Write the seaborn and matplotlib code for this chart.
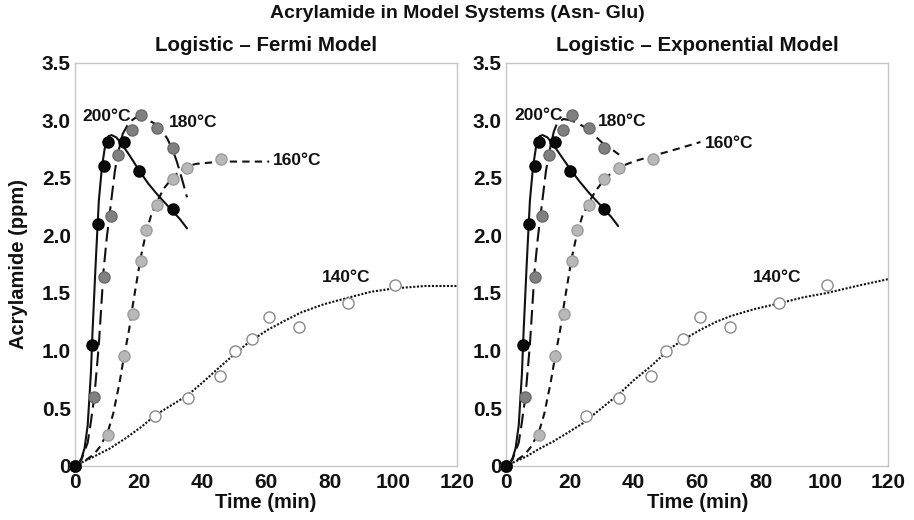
import numpy as np
import pandas as pd
import matplotlib
matplotlib.use("Agg")
import matplotlib.pyplot as plt
from matplotlib.ticker import FixedLocator, FuncFormatter
import seaborn as sns

# ---- measured acrylamide data (time in min, acrylamide in ppm) ----
t200 = [0, 5.3, 7.2, 9.0, 10.5, 15.3, 20.2, 30.7]
y200 = [0, 1.05, 2.10, 2.60, 2.81, 2.81, 2.56, 2.23]

t180 = [0, 6.1, 9.0, 11.4, 13.4, 17.8, 20.6, 25.9, 30.7]
y180 = [0, 0.60, 1.64, 2.17, 2.70, 2.91, 3.04, 2.93, 2.76]

t160 = [0, 10.4, 15.3, 18.2, 20.6, 22.4, 25.9, 30.7, 35.3, 46.0]
y160 = [0, 0.27, 0.95, 1.32, 1.78, 2.05, 2.26, 2.49, 2.58, 2.66]

t140 = [0, 25.2, 35.4, 45.5, 50.2, 55.6, 60.9, 70.4, 85.7, 100.6]
y140 = [0, 0.43, 0.59, 0.78, 1.00, 1.10, 1.29, 1.20, 1.41, 1.57]

# ---- fitted curves, Logistic - Fermi model ----
fermi200_t = [0, 1, 2, 3, 4, 5, 5.5, 6.5, 7.5, 8.5, 9.5, 10.5, 11.5, 13, 15, 17, 20, 23, 26, 29, 31, 33, 35.2]
fermi200_y = [0, 0.02, 0.06, 0.15, 0.35, 0.8, 1.15, 1.75, 2.3, 2.6, 2.78, 2.86, 2.87, 2.85, 2.78, 2.7, 2.57, 2.45, 2.35, 2.26, 2.2, 2.14, 2.06]

fermi180_t = [0, 2, 4, 5, 6.1, 7.5, 9, 10, 11.4, 12.5, 13.4, 15, 17, 19, 21, 23, 25, 27, 29, 30.7, 32, 33.5, 35.2]
fermi180_y = [0, 0.05, 0.2, 0.38, 0.6, 1.05, 1.7, 1.98, 2.3, 2.55, 2.7, 2.88, 2.98, 3.02, 3.02, 3.0, 2.97, 2.92, 2.84, 2.74, 2.64, 2.5, 2.33]

fermi160_t = [0, 3, 6, 8, 10.4, 12, 14, 15.3, 17, 18.2, 20.6, 22.4, 24, 25.9, 28, 30.7, 33, 35.3, 38, 42, 46, 50, 55, 61]
fermi160_y = [0, 0.04, 0.1, 0.17, 0.3, 0.45, 0.72, 0.93, 1.18, 1.4, 1.8, 2.03, 2.18, 2.3, 2.41, 2.5, 2.56, 2.6, 2.62, 2.63, 2.64, 2.64, 2.64, 2.64]

fermi140_t = [0, 6, 11, 16, 21, 25.3, 30, 35.3, 40, 44.8, 51, 55, 60.6, 66, 71, 78, 86, 93, 100.6, 110, 120]
fermi140_y = [0, 0.08, 0.15, 0.24, 0.34, 0.44, 0.52, 0.61, 0.72, 0.84, 0.99, 1.08, 1.18, 1.26, 1.33, 1.4, 1.46, 1.51, 1.54, 1.56, 1.56]

# ---- fitted curves, Logistic - Exponential model ----
exp200_t = [0, 1, 2, 3, 4, 5, 5.5, 6.5, 7.5, 8.5, 9.5, 10.5, 11.5, 13, 15, 17, 20, 23, 26, 29, 31, 33, 35.2]
exp200_y = [0, 0.02, 0.06, 0.15, 0.35, 0.8, 1.15, 1.75, 2.3, 2.6, 2.78, 2.86, 2.87, 2.85, 2.78, 2.7, 2.58, 2.47, 2.37, 2.28, 2.22, 2.16, 2.08]

exp180_t = [0, 2, 4, 5, 6.1, 7.5, 9, 10, 11.4, 12.5, 13.4, 15, 16, 18, 20, 22, 24, 26, 28, 30.7, 33, 35.5]
exp180_y = [0, 0.05, 0.2, 0.38, 0.6, 1.05, 1.7, 1.98, 2.3, 2.55, 2.7, 2.9, 2.97, 3.01, 3.0, 2.98, 2.95, 2.91, 2.86, 2.79, 2.75, 2.7]

exp160_t = [0, 3, 6, 8, 10.4, 12, 14, 15.3, 17, 18.2, 20.6, 22.4, 24, 25.9, 28, 30.7, 33, 35.3, 40, 46, 50, 55, 61]
exp160_y = [0, 0.04, 0.1, 0.17, 0.3, 0.45, 0.72, 0.93, 1.18, 1.4, 1.8, 2.03, 2.17, 2.28, 2.38, 2.48, 2.54, 2.59, 2.64, 2.69, 2.72, 2.76, 2.81]

exp140_t = [0, 6.4, 10, 14.8, 19, 24.2, 30, 35.8, 40, 45.3, 51.6, 56, 61, 66, 70.6, 78, 85.8, 93, 100.8, 110, 120]
exp140_y = [0, 0.08, 0.14, 0.21, 0.28, 0.37, 0.5, 0.63, 0.74, 0.86, 1.02, 1.1, 1.18, 1.25, 1.3, 1.36, 1.41, 1.46, 1.5, 1.56, 1.62]

temps = ["200°C", "180°C", "160°C", "140°C"]
x_ticks = [0, 20, 40, 60, 80, 100, 120]
y_ticks = [0, 0.5, 1.0, 1.5, 2.0, 2.5, 3.0, 3.5]

# label anchor positions (time, ppm) per panel
fermi_label_pos = [(10.0, 3.03), (37.1, 2.98), (69.7, 2.65), (85.2, 1.63)]
exp_label_pos = [(10.3, 3.04), (36.3, 2.99), (69.9, 2.80), (85.0, 1.63)]

sns.set_theme(style="white")
plt.rcParams["font.family"] = ["Liberation Sans", "DejaVu Sans"]
plt.rcParams["font.weight"] = "bold"

styles = {
    "200°C": dict(ls="-", face="#0a0a0a", edge="#000000"),
    "180°C": dict(ls=(0, (7, 3)), face="#808080", edge="#6a6a6a"),
    "160°C": dict(ls=(0, (3.5, 2.5)), face="#b8b8b8", edge="#9c9c9c"),
    "140°C": dict(ls=(0, (1, 0.8)), face="#ffffff", edge="#8a8a8a"),
}

points = {
    "200°C": (t200, y200),
    "180°C": (t180, y180),
    "160°C": (t160, y160),
    "140°C": (t140, y140),
}
fermi_curves = {
    "200°C": (fermi200_t, fermi200_y),
    "180°C": (fermi180_t, fermi180_y),
    "160°C": (fermi160_t, fermi160_y),
    "140°C": (fermi140_t, fermi140_y),
}
exp_curves = {
    "200°C": (exp200_t, exp200_y),
    "180°C": (exp180_t, exp180_y),
    "160°C": (exp160_t, exp160_y),
    "140°C": (exp140_t, exp140_y),
}

fig = plt.figure(figsize=(9.14, 5.20), dpi=100)
ax_l = fig.add_axes([0.082, 0.1044, 0.418, 0.7754])
ax_r = fig.add_axes([0.5536, 0.1044, 0.4185, 0.7754])

spine_color = "#c6c6c6"
tick_fs = 15
axis_fs = 14.5


def draw_panel(ax, curves, label_pos, title):
    for i, temp in enumerate(temps[::-1]):
        st = styles[temp]
        ct, cy = curves[temp]
        curve_df = pd.DataFrame({"time": ct, "ppm": cy})
        sns.lineplot(data=curve_df, x="time", y="ppm", ax=ax, sort=False,
                     estimator=None, color="#111111", lw=1.5,
                     linestyle=st["ls"], zorder=2 + i)
    for i, temp in enumerate(temps[::-1]):
        st = styles[temp]
        pt, py = points[temp]
        pts_df = pd.DataFrame({"time": pt, "ppm": py})
        sns.scatterplot(data=pts_df, x="time", y="ppm", ax=ax, s=64,
                        color=st["face"], edgecolor=st["edge"],
                        linewidth=1.0, zorder=10 + i, clip_on=False)
    for temp, (lx, ly) in zip(temps, label_pos):
        ax.text(lx, ly, temp, ha="center", va="center", fontsize=12.5,
                fontweight="bold", color="#111111", zorder=20)

    ax.set_xlim(0, 120)
    ax.set_ylim(0, 3.5)
    ax.xaxis.set_major_locator(FixedLocator(x_ticks))
    ax.yaxis.set_major_locator(FixedLocator(y_ticks))
    ax.yaxis.set_major_formatter(FuncFormatter(lambda v, p: "0" if v == 0 else f"{v:.1f}"))
    ax.xaxis.set_major_formatter(FuncFormatter(lambda v, p: f"{v:.0f}"))
    ax.tick_params(axis="both", which="major", direction="in", length=3,
                   width=0.8, color=spine_color, labelsize=tick_fs,
                   labelcolor="#111111")
    ax.tick_params(axis="x", pad=5)
    ax.tick_params(axis="y", pad=3)
    for lab in ax.get_xticklabels() + ax.get_yticklabels():
        lab.set_fontweight("bold")
    for sp in ax.spines.values():
        sp.set_color(spine_color)
        sp.set_linewidth(1.0)
    ax.set_xlabel("Time (min)", fontsize=axis_fs, fontweight="bold",
                  color="#111111", labelpad=1)
    ax.set_ylabel("")
    ax.set_title(title, fontsize=14.8, fontweight="bold", color="#111111", pad=8)


draw_panel(ax_l, fermi_curves, fermi_label_pos, "Logistic \u2013 Fermi Model")
draw_panel(ax_r, exp_curves, exp_label_pos, "Logistic \u2013 Exponential Model")
ax_l.set_ylabel("Acrylamide (ppm)", fontsize=axis_fs, fontweight="bold",
                color="#111111", labelpad=10)

fig.text(0.5, 0.99, "Acrylamide in Model Systems (Asn- Glu)", ha="center",
         va="top", fontsize=14, fontweight="bold", color="#111111")

fig.savefig("out.png", dpi=100)
